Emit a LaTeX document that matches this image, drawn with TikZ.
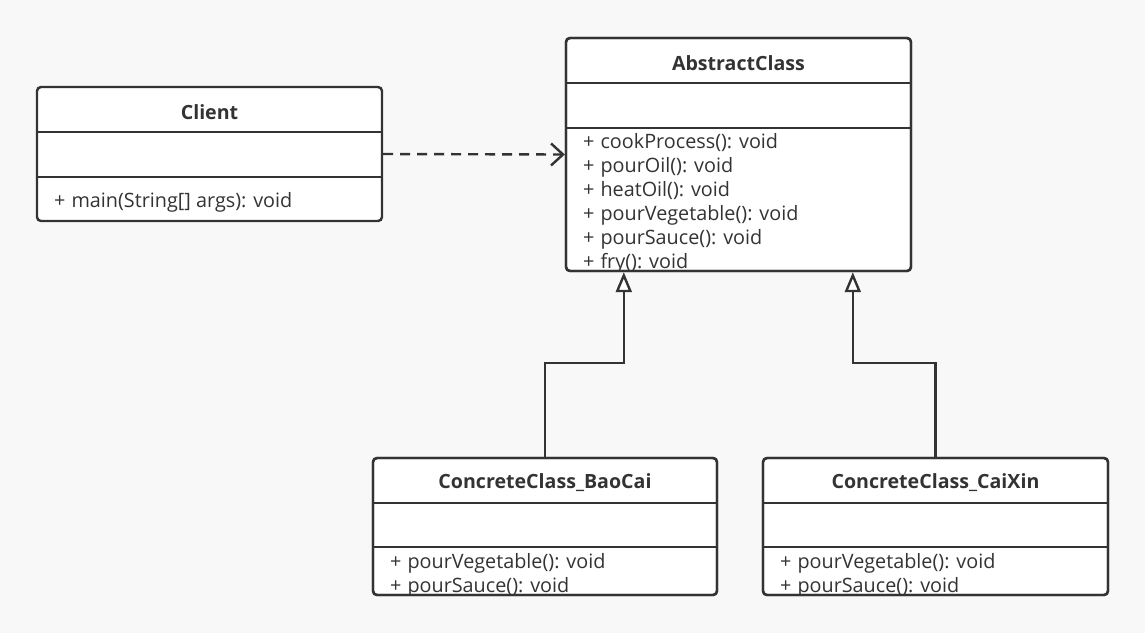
\documentclass[tikz,border=0pt]{standalone}
\usepackage{fontspec}
\setmainfont{Open Sans}
\usetikzlibrary{arrows.meta}
\definecolor{ink}{HTML}{333333}
\definecolor{bg}{HTML}{F8F8F8}
\tikzset{
  classbox/.style={draw=ink, line width=2.4pt, rounded corners=4pt, fill=white, inner sep=0pt},
  title/.style={font=\fontsize{19.6}{22}\selectfont\bfseries, text=ink, inner sep=0pt},
  member/.style={font=\fontsize{19.8}{22}\selectfont, text=ink, inner sep=0pt, anchor=west},
  sep/.style={draw=ink, line width=2.4pt},
  dep/.style={draw=ink, line width=2.4pt, dash pattern=on 10pt off 7pt, -{Straight Barb[length=12pt,width=22pt,line width=2.4pt]}},
  gen/.style={draw=ink, line width=2.4pt, -{Triangle[open,fill=white,length=20pt,width=16pt,line width=2.4pt]}},
}
\newcommand{\pl}{+\hspace{6pt}}
\begin{document}
\begin{tikzpicture}[x=1pt,y=-1pt]
\fill[bg] (0,0) rectangle (1145,633);
\useasboundingbox (0,0) rectangle (1145,633);

% Client
\node[classbox, minimum width=345pt, minimum height=134pt] (client) at (209.5,154) {};
\draw[sep] (37,132) -- (382,132);
\draw[sep] (37,177) -- (382,177);
\node[title] (clientT) at (209.5,112) {Client};
\node[member] (clientM) at (54,202) {\pl main(String[] args): void};

% AbstractClass
\node[classbox, minimum width=345pt, minimum height=233pt] (abs) at (738.5,154.5) {};
\draw[sep] (566,83) -- (911,83);
\draw[sep] (566,128) -- (911,128);
\node[title] (absT) at (738.5,63) {AbstractClass};
\begin{scope}
\clip (566,128) rectangle (911,270);
\node[member] (a1) at (583,143) {\pl cookProcess(): void};
\node[member] (a2) at (583,167) {\pl pourOil(): void};
\node[member] (a3) at (583,191) {\pl heatOil(): void};
\node[member] (a4) at (583,215) {\pl pourVegetable(): void};
\node[member] (a5) at (583,239) {\pl pourSauce(): void};
\node[member] (a6) at (583,263) {\pl fry(): void};
\end{scope}
\draw[draw=ink, line width=2.4pt, rounded corners=4pt] (566,38) rectangle (911,271);

% BaoCai
\node[classbox, minimum width=344pt, minimum height=137pt] (bao) at (545,526.5) {};
\draw[sep] (373,503) -- (717,503);
\draw[sep] (373,547) -- (717,547);
\node[title] (baoT) at (545,483) {ConcreteClass\_BaoCai};
\begin{scope}
\clip (373,547) rectangle (717,594);
\node[member] (b1) at (390,563) {\pl pourVegetable(): void};
\node[member] (b2) at (390,587) {\pl pourSauce(): void};
\end{scope}
\draw[draw=ink, line width=2.4pt, rounded corners=4pt] (373,458) rectangle (717,595);

% CaiXin
\node[classbox, minimum width=345pt, minimum height=137pt] (cai) at (935.5,526.5) {};
\draw[sep] (763,503) -- (1108,503);
\draw[sep] (763,547) -- (1108,547);
\node[title] (caiT) at (935.5,483) {ConcreteClass\_CaiXin};
\begin{scope}
\clip (763,547) rectangle (1108,594);
\node[member] (c1) at (780,563) {\pl pourVegetable(): void};
\node[member] (c2) at (780,587) {\pl pourSauce(): void};
\end{scope}
\draw[draw=ink, line width=2.4pt, rounded corners=4pt] (763,458) rectangle (1108,595);

% connectors
\draw[dep] (client.east) -- (abs.west);
\draw[gen] (bao.north) -- ++(0,-94) -| ([xshift=59pt]abs.south west);
\draw[gen] (cai.north) -- ++(0,-94) -| ([xshift=288pt]abs.south west);
\end{tikzpicture}
\end{document}
